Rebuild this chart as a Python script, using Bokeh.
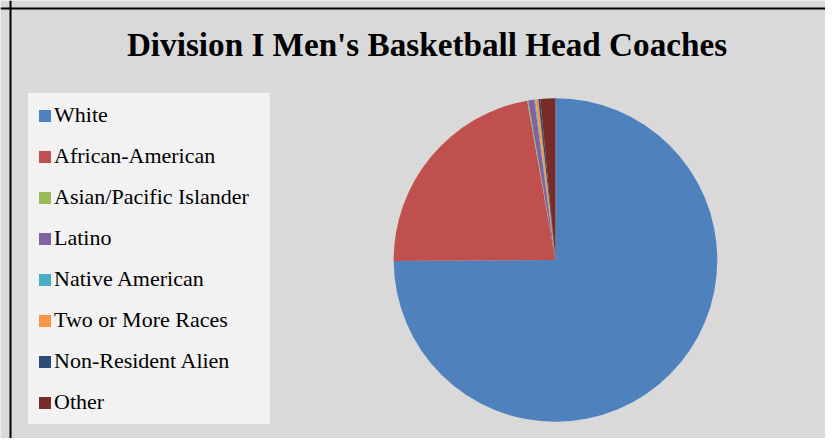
import numpy as np
from bokeh.plotting import figure
from bokeh.models import ColumnDataSource, Range1d, Legend, LegendItem, Label, Span
from bokeh.embed import file_html
from bokeh.resources import INLINE

# Data (percent of coaches)
categories = ["White", "African-American", "Asian/Pacific Islander", "Latino",
              "Native American", "Two or More Races", "Non-Resident Alien", "Other"]
shares = [74.9, 22.3, 0.1, 0.6, 0.1, 0.3, 0.2, 1.5]
colors = ["#4F81BD", "#C0504D", "#9BBB59", "#8064A2",
          "#4BACC6", "#F79646", "#2C4D75", "#772C2A"]

W, H = 825, 438
frac = np.array(shares) / np.sum(shares)
cum = np.concatenate([[0.0], np.cumsum(frac)])
start = np.pi / 2 - cum[:-1] * 2 * np.pi
end = np.pi / 2 - cum[1:] * 2 * np.pi

src = ColumnDataSource(dict(cat=categories, start=start, end=end, color=colors))

p = figure(width=W, height=H, output_backend="svg", toolbar_location=None,
           x_range=Range1d(0, W), y_range=Range1d(0, H),
           x_axis_type=None, y_axis_type=None, min_border=0)
p.background_fill_color = "#D9D9D9"
p.border_fill_color = "#D9D9D9"
p.outline_line_color = None
p.grid.visible = False

r = p.wedge(x=555, y=H - 259.5, radius=161.8, start_angle="start", end_angle="end",
            direction="clock", fill_color="color", line_color=None, source=src)

items = [LegendItem(label=c, renderers=[r], index=i) for i, c in enumerate(categories)]
legend = Legend(items=items, location=(28, H - 424), margin=0, padding=8,
                spacing=15, label_height=20, glyph_height=15, glyph_width=15,
                label_standoff=2, label_width=207,
                label_text_font="Liberation Serif", label_text_font_size="22px",
                label_text_color="#000000",
                background_fill_color="#F2F2F2", background_fill_alpha=1.0,
                border_line_color="#F2F2F2", border_line_width=1)
p.add_layout(legend, "center")

title = Label(x=426.5, y=H - 44, x_units="screen", y_units="screen",
              text="Division I Men's Basketball Head Coaches",
              text_font="Liberation Serif", text_font_size="33.2px",
              text_font_style="bold", text_align="center",
              text_baseline="alphabetic", text_color="#000000")
p.add_layout(title)

p.add_layout(Span(location=10, dimension="height", line_color="black", line_width=2))
p.add_layout(Span(location=H - 8, dimension="width", line_color="black", line_width=2))

open("out.html", "w").write(file_html(p, INLINE))
